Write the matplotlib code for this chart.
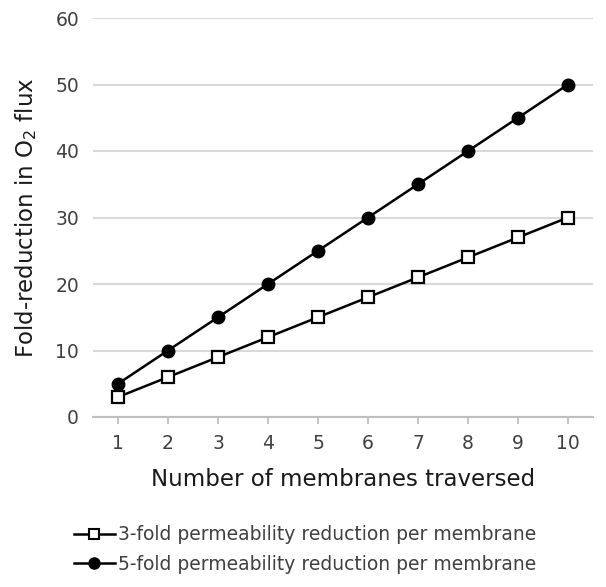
import matplotlib
matplotlib.use("Agg")
import matplotlib.pyplot as plt
from matplotlib.lines import Line2D

membranes = [1, 2, 3, 4, 5, 6, 7, 8, 9, 10]
fold3 = [3, 6, 9, 12, 15, 18, 21, 24, 27, 30]
fold5 = [5, 10, 15, 20, 25, 30, 35, 40, 45, 50]
yticks = [0, 10, 20, 30, 40, 50, 60]
label3 = "3-fold permeability reduction per membrane"
label5 = "5-fold permeability reduction per membrane"

plt.rcParams['font.family'] = ['DejaVu Sans']
txt = '#404040'

fig = plt.figure(figsize=(6.06, 5.87), dpi=100)
ax = fig.add_axes([93/606, 1-417/587, 500/606, 399/587])

ax.plot(membranes, fold3, color='black', lw=1.8, marker='s', ms=8,
        mfc='white', mec='black', mew=1.6, label=label3, zorder=3)
ax.plot(membranes, fold5, color='black', lw=1.8, marker='o', ms=9,
        mfc='black', mec='black', label=label5, zorder=4)

ax.set_xlim(0.5, 10.5)
ax.set_ylim(0, 60)
ax.set_yticks(yticks)
ax.set_xticks(membranes)
ax.yaxis.grid(True, color='#d9d9d9', lw=1.5)
ax.set_axisbelow(True)
for s in ['top', 'right', 'left']:
    ax.spines[s].set_visible(False)
ax.spines['bottom'].set_color('#bfbfbf')
ax.spines['bottom'].set_linewidth(1.5)
ax.tick_params(axis='y', length=0, pad=10, labelsize=13.5, labelcolor=txt)
ax.tick_params(axis='x', length=5, color='#bfbfbf', width=1.3, pad=7,
               labelsize=13.5, labelcolor=txt)

ax.set_xlabel("Number of membranes traversed", fontsize=16.5, color='#1a1a1a', labelpad=11)
ax.set_ylabel("Fold-reduction in O$_2$ flux", fontsize=16.5, color='#1a1a1a', labelpad=12)

h3 = Line2D([], [], color='black', lw=1.8, marker='s', ms=7, mfc='white', mec='black', mew=1.5)
h5 = Line2D([], [], color='black', lw=1.8, marker='o', ms=8, mfc='black', mec='black')
leg = fig.legend([h3, h5], [label3, label5], loc='upper left',
                 bbox_to_anchor=(66/606, 1-518/587), frameon=False,
                 fontsize=13.5, handlelength=2.2, handletextpad=0.2,
                 labelspacing=0.55, borderaxespad=0)
for t in leg.get_texts():
    t.set_color(txt)

fig.savefig("out.png", dpi=100)
